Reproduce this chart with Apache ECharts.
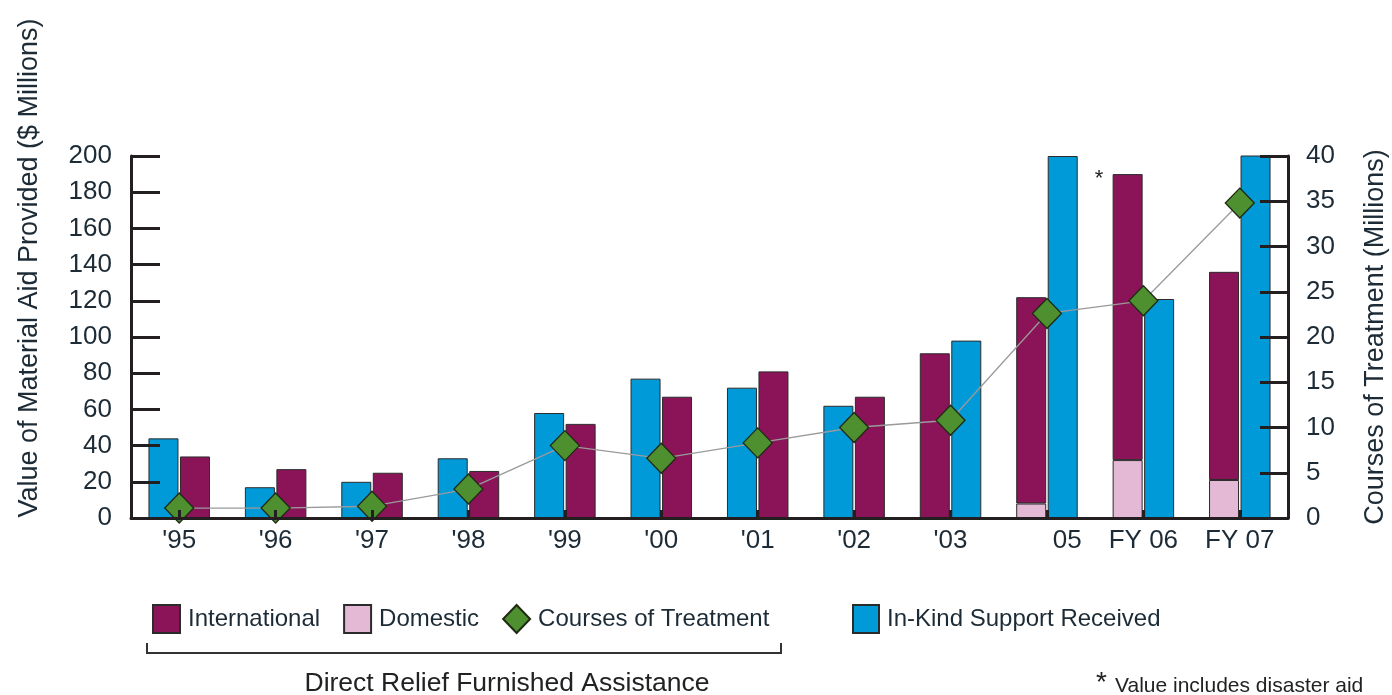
<!DOCTYPE html>
<html>
<head>
<meta charset="utf-8">
<script src="https://cdn.jsdelivr.net/npm/echarts@6/dist/echarts.min.js"></script>
<style>
  html, body { margin: 0; padding: 0; background: #fff; }
  #main { width: 1392px; height: 695px; }
</style>
</head>
<body>
<div id="main"></div>
<script>
// categories (years) as printed under the axis
var years = ["'95", "'96", "'97", "'98", "'99", "'00", "'01", "'02", "'03", "05", "FY 06", "FY 07"];
// $ millions
var inKind = [44, 17, 20, 33, 58, 77, 72, 62, 98, 200, 121, 201];
var international = [34, 27, 25, 26, 52, 67, 81, 67, 91, 114, 158, 115]; // part above domestic
var domestic = [0, 0, 0, 0, 0, 0, 0, 0, 0, 8, 32, 21];
// millions of courses
var courses = [1.1, 1.1, 1.3, 3.2, 8.0, 6.6, 8.3, 10.0, 10.8, 22.6, 24.0, 34.8];
// from '03 on the maroon bar sits left of the blue one
var swapFrom = 8;
var leftTicks = [0, 200, 20];
var rightTicks = [0, 40, 5];

var BLUE = '#009ad9', MAROON = '#8b1459', PINK = '#e3b9d5', GREEN = '#4e9030';
var TXT = '#1c2b36', AXIS = '#231f20';
var FONT = 'Liberation Sans, Arial, sans-serif';

function pick(arr, left, isBlue) {
  // left slot: blue before swapFrom, maroon after; right slot the other way round
  return arr.map(function (v, i) {
    var early = i < swapFrom;
    var show = isBlue ? (early === left) : (early !== left);
    return show && v ? v : '-';
  });
}

function bar(name, color, stack, data) {
  return {
    type: 'bar',
    name: name, stack: stack, data: data,
    barWidth: 30,
    barGap: '5%',
    itemStyle: { color: color, borderColor: '#2b2b2b', borderWidth: 1 }
  };
}

var intlLeft = pick(international, true, false);
// asterisk note on FY 06 international bar
intlLeft[10] = {
  value: international[10],
  label: { show: true, position: [-18, -6], formatter: '*', color: '#222', fontSize: 22, fontFamily: FONT }
};

var series = [
  bar('Domestic', PINK, 'L', pick(domestic, true, false)),
  bar('International', MAROON, 'L', intlLeft),
  bar('In-Kind Support Received', BLUE, 'L', pick(inKind, true, true)),
  bar('Domestic', PINK, 'R', pick(domestic, false, false)),
  bar('International', MAROON, 'R', pick(international, false, false)),
  bar('In-Kind Support Received', BLUE, 'R', pick(inKind, false, true)),
  {
    name: 'Courses of Treatment',
    type: 'line',
    yAxisIndex: 1,
    data: courses,
    z: 5,
    symbol: 'diamond',
    symbolSize: [29, 30],
    lineStyle: { color: '#9a9a9a', width: 1.3 },
    itemStyle: { color: GREEN, borderColor: '#1f2a14', borderWidth: 1.3 }
  }
];

var legendText = { color: TXT, fontSize: 24, fontFamily: FONT, padding: [0, 0, 0, 3] };

var chart = echarts.init(document.getElementById('main'));
chart.setOption({
  backgroundColor: '#fff',
  animation: false,
  grid: { left: 131, right: 104, top: 156, bottom: 177 },
  legend: [
    {
      left: 152, top: 604, padding: 0,
      itemWidth: 27, itemHeight: 28, itemGap: 23,
      textStyle: legendText,
      data: [
        { name: 'International', icon: 'rect' },
        { name: 'Domestic', icon: 'rect' },
        { name: 'Courses of Treatment', icon: 'diamond' }
      ]
    },
    {
      left: 852, top: 604, padding: 0,
      itemWidth: 26, itemHeight: 28,
      textStyle: legendText,
      data: [{ name: 'In-Kind Support Received', icon: 'rect' }]
    }
  ],
  xAxis: {
    type: 'category',
    data: years,
    z: 10,
    axisLine: { lineStyle: { color: AXIS, width: 3 } },
    axisTick: { show: true, inside: true, alignWithLabel: true, length: 8, lineStyle: { color: AXIS, width: 3 } },
    axisLabel: {
      interval: 0,
      color: TXT, fontSize: 26, fontFamily: FONT, margin: 10,
      formatter: function (v) { return v === '05' ? '{h|FY }05' : v; },
      rich: { h: { color: 'rgba(0,0,0,0)', fontSize: 26, fontFamily: FONT } }
    }
  },
  yAxis: [
    {
      type: 'value',
      min: leftTicks[0], max: leftTicks[1], interval: leftTicks[2],
      z: 10,
      splitLine: { show: false },
      axisLine: { show: true, lineStyle: { color: AXIS, width: 3 } },
      axisTick: { show: true, inside: true, length: 29, lineStyle: { color: AXIS, width: 3 } },
      axisLabel: { color: TXT, fontSize: 26, fontFamily: FONT, margin: 19 }
    },
    {
      type: 'value',
      position: 'right',
      min: rightTicks[0], max: rightTicks[1], interval: rightTicks[2],
      z: 10,
      splitLine: { show: false },
      axisLine: { show: true, lineStyle: { color: AXIS, width: 3 } },
      axisTick: { show: true, inside: true, length: 28, lineStyle: { color: AXIS, width: 3 } },
      axisLabel: { color: TXT, fontSize: 26, fontFamily: FONT, margin: 18 }
    }
  ],
  graphic: [
    {
      type: 'text', x: 30, y: 268, rotation: Math.PI / 2,
      style: { text: 'Value of Material Aid Provided ($ Millions)', fill: TXT, fontSize: 27, fontFamily: FONT, align: 'center', verticalAlign: 'middle' }
    },
    {
      type: 'text', x: 1376, y: 337, rotation: Math.PI / 2,
      style: { text: 'Courses of Treatment (Millions)', fill: TXT, fontSize: 27, fontFamily: FONT, align: 'center', verticalAlign: 'middle' }
    },
    {
      type: 'polyline',
      shape: { points: [[147, 643], [147, 653], [781, 653], [781, 643]] },
      style: { stroke: '#333', lineWidth: 2, fill: null }
    },
    {
      type: 'text', x: 507, y: 684,
      style: { text: 'Direct Relief Furnished Assistance', fill: '#222', fontSize: 26.5, fontFamily: FONT, align: 'center', verticalAlign: 'middle' }
    },
    {
      type: 'text', x: 1096, y: 683,
      style: { text: '*', fill: '#222', fontSize: 28, fontFamily: FONT, align: 'left', verticalAlign: 'middle' }
    },
    {
      type: 'text', x: 1115, y: 686,
      style: { text: 'Value includes disaster aid', fill: '#222', fontSize: 21, fontFamily: FONT, align: 'left', verticalAlign: 'middle' }
    }
  ],
  series: series
});
</script>
</body>
</html>
